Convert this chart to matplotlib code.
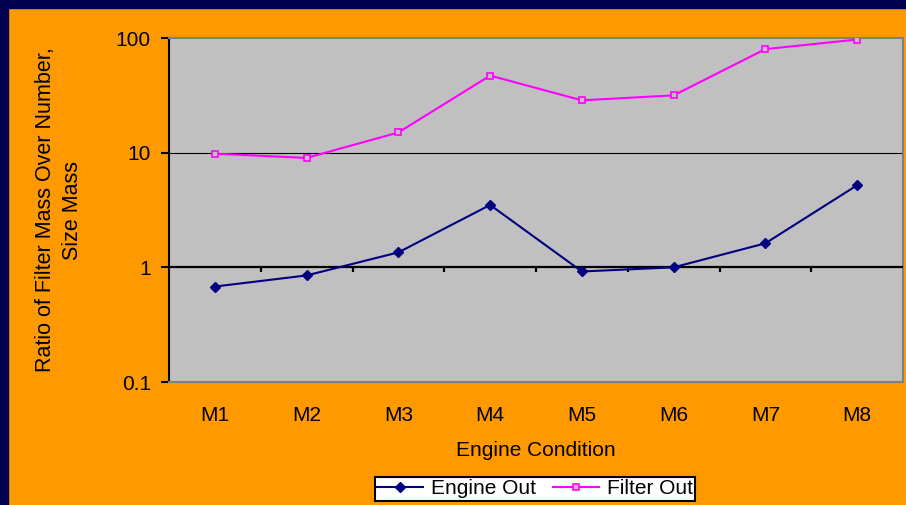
import matplotlib.pyplot as plt
from matplotlib.patches import Rectangle

conditions = ['M1', 'M2', 'M3', 'M4', 'M5', 'M6', 'M7', 'M8']
engine_out = [0.68, 0.85, 1.35, 3.5, 0.92, 1.0, 1.62, 5.2]
filter_out = [9.8, 9.0, 15.0, 47.0, 28.6, 31.6, 80.0, 97.0]
yticks = [0.1, 1, 10, 100]
ytick_labels = ['0.1', '1', '10', '100']

plt.rcParams['font.family'] = ['Liberation Sans', 'DejaVu Sans']

fig = plt.figure(figsize=(9.06, 5.05), dpi=100)
fig.patch.set_facecolor('#FF9900')
# navy slide border top and left
fig.patches.append(Rectangle((0, 1 - 8/505), 1, 8/505, transform=fig.transFigure,
                             color='#000050', zorder=0))
fig.patches.append(Rectangle((0, 0), 8/906, 1, transform=fig.transFigure,
                             color='#000050', zorder=0))

ax = fig.add_axes([169/906, 1 - 382/505, 734/906, 344/505])
ax.set_facecolor('#C0C0C0')
ax.set_yscale('log')
ax.set_ylim(0.1, 100)
ax.set_xlim(-0.5, len(conditions) - 0.5)

x = list(range(len(conditions)))
ax.plot(x, engine_out, color='#000080', lw=1.5, marker='D', ms=5,
        label='Engine Out', zorder=4)
ax.plot(x, filter_out, color='#FF00FF', lw=1.5, marker='s', ms=5,
        mfc='#C0C0C0', mec='#FF00FF', mew=1.2, label='Filter Out', zorder=4)

# grid line at 10, category axis crossing at 1
ax.axhline(10, color='black', lw=0.8, zorder=2)
ax.axhline(1, color='black', lw=1.6, zorder=3)
ax.vlines([i + 0.5 for i in x[:-1]], 0.905, 1, color='black', lw=1.6, zorder=3)

ax.set_yticks(yticks)
ax.set_yticklabels(ytick_labels)
ax.minorticks_off()
ax.tick_params(axis='y', direction='out', length=6, width=1.5, labelsize=15, pad=7)
ax.set_xticks(x)
ax.set_xticklabels(conditions)
ax.tick_params(axis='x', length=0, labelsize=15, pad=17)

for s in ['top', 'right', 'bottom']:
    ax.spines[s].set_color('#808080')
    ax.spines[s].set_linewidth(1.5)
ax.spines['left'].set_color('black')
ax.spines['left'].set_linewidth(1.5)

ax.set_xlabel('Engine Condition', fontsize=15, labelpad=12)
ax.set_ylabel('Ratio of Filter Mass Over Number,\nSize Mass', fontsize=15.5,
              linespacing=1.35)
ax.yaxis.set_label_coords((83 - 169) / 734, 0.5)

leg = fig.legend(loc='center', bbox_to_anchor=(535/906, 1 - 489/505), ncol=2,
                 fontsize=15, frameon=True, fancybox=False, borderpad=0.1,
                 handlelength=2.2, columnspacing=0.8, handletextpad=0.4)
leg.get_frame().set_edgecolor('black')
leg.get_frame().set_linewidth(1.5)
leg.get_frame().set_facecolor('white')
leg.get_frame().set_alpha(1)

fig.savefig('out.png', dpi=100, facecolor=fig.get_facecolor())
